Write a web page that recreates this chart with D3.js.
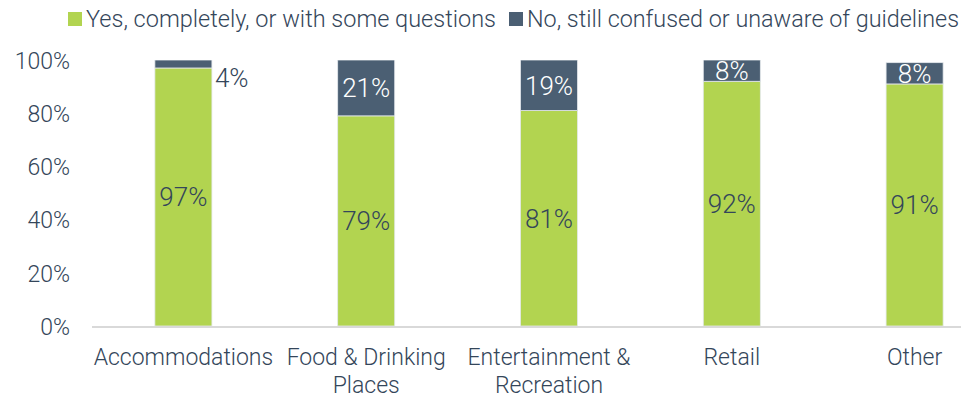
<!DOCTYPE html>
<html>
<head>
<meta charset="utf-8">
<script src="https://cdn.jsdelivr.net/npm/d3@7/dist/d3.min.js"></script>
<style>
  html, body { margin: 0; padding: 0; background: #fff; }
  svg text { font-family: Roboto, "Liberation Sans", sans-serif; font-weight: 300; }
</style>
</head>
<body>
<svg id="chart" width="961" height="398"></svg>
<script>
// Survey answers by business type (percent of respondents)
const categories = [["Accommodations"], ["Food & Drinking", "Places"], ["Entertainment &", "Recreation"], ["Retail"], ["Other"]];
const seriesNames = ["Yes, completely, or with some questions", "No, still confused or unaware of guidelines"];
const yesValues = [97, 79, 81, 92, 91];
const noValues = [4, 21, 19, 8, 8];
const yTicks = [0, 20, 40, 60, 80, 100];

const colors = ["#b2d450", "#4b5f73"];
const textColor = "#34465a";

const svg = d3.select("#chart");
const W = 961, H = 398;
const margin = { left: 92, top: 60, bottom: 72 };
const plotBottom = H - margin.bottom;

const keys = categories.map(c => c.join(" "));
const x = d3.scaleBand().domain(keys).range([margin.left, margin.left + 5 * 182.8]).paddingInner(0.688).paddingOuter(0.344);
const y = d3.scaleLinear().domain([0, 100]).range([plotBottom, margin.top]);

const rows = keys.map((k, i) => ({ key: k, yes: yesValues[i], no: noValues[i] }));
const stack = d3.stack().keys(["yes", "no"]);
const layers = stack(rows);

// clip the stack at 100%
svg.append("clipPath").attr("id", "plot")
  .append("rect").attr("x", 0).attr("y", y(100)).attr("width", W).attr("height", plotBottom - y(100));

// y axis labels
const yAxis = svg.append("g").attr("transform", `translate(${margin.left - 22},0)`)
  .call(d3.axisLeft(y).tickValues(yTicks).tickFormat(d => d + "%").tickSize(0).tickPadding(0));
yAxis.select(".domain").remove();
yAxis.selectAll("text").attr("fill", textColor).style("font-size", "23px").attr("dy", "0.36em");

// bars
const barG = svg.append("g").attr("clip-path", "url(#plot)");
layers.forEach((layer, li) => {
  barG.selectAll(null).data(layer).enter().append("rect")
    .attr("x", d => x(d.data.key))
    .attr("width", x.bandwidth())
    .attr("y", d => y(Math.min(d[1], 100)))
    .attr("height", d => y(d[0]) - y(Math.min(d[1], 100)))
    .attr("fill", colors[li])
    .attr("stroke", "#e4e8ec").attr("stroke-width", 0.8);
});

// baseline
svg.append("line").attr("x1", margin.left).attr("x2", W).attr("y1", plotBottom + 1).attr("y2", plotBottom + 1)
  .attr("stroke", "#d9d9d9").attr("stroke-width", 2);

// value labels
const labG = svg.append("g").style("font-size", "26px");
layers[0].forEach(d => {
  labG.append("text")
    .attr("x", x(d.data.key) + x.bandwidth() / 2)
    .attr("y", (y(d[0]) + y(d[1])) / 2)
    .attr("dy", "0.36em").attr("text-anchor", "middle").attr("fill", textColor)
    .text(d.data.yes + "%");
});
layers[1].forEach(d => {
  const top = y(Math.min(d[1], 100)), bot = y(d[0]);
  if (bot - top < 14) {
    // segment too thin: label sits beside the bar
    labG.append("text")
      .attr("x", x(d.data.key) + x.bandwidth() + 3)
      .attr("y", top + 18)
      .attr("dy", "0.36em").attr("text-anchor", "start").attr("fill", textColor)
      .text(d.data.no + "%");
  } else {
    labG.append("text")
      .attr("x", x(d.data.key) + x.bandwidth() / 2)
      .attr("y", (top + bot) / 2)
      .attr("dy", "0.36em").attr("text-anchor", "middle").attr("fill", "#ffffff")
      .text(d.data.no + "%");
  }
});

// category labels
const catG = svg.append("g").style("font-size", "23px").attr("fill", textColor);
categories.forEach((lines, i) => {
  const cx = x(keys[i]) + x.bandwidth() / 2;
  const t = catG.append("text").attr("x", cx).attr("y", 365).attr("text-anchor", "middle");
  lines.forEach((ln, j) => t.append("tspan").attr("x", cx).attr("dy", j === 0 ? 0 : 28).text(ln));
});

// legend: two swatches with their names, fitted across the top
const legendItems = [{ x: 68, width: 410 }, { x: 509, width: 432 }];
const legend = svg.append("g").style("font-size", "23px");
seriesNames.forEach((name, i) => {
  const it = legendItems[i];
  legend.append("rect").attr("x", it.x).attr("y", 12).attr("width", 14).attr("height", 14).attr("fill", colors[i]);
  legend.append("text").attr("x", it.x + 18).attr("y", 19).attr("dy", "0.36em").attr("fill", textColor)
    .attr("textLength", it.width).attr("lengthAdjust", "spacingAndGlyphs").text(name);
});
</script>
</body>
</html>
